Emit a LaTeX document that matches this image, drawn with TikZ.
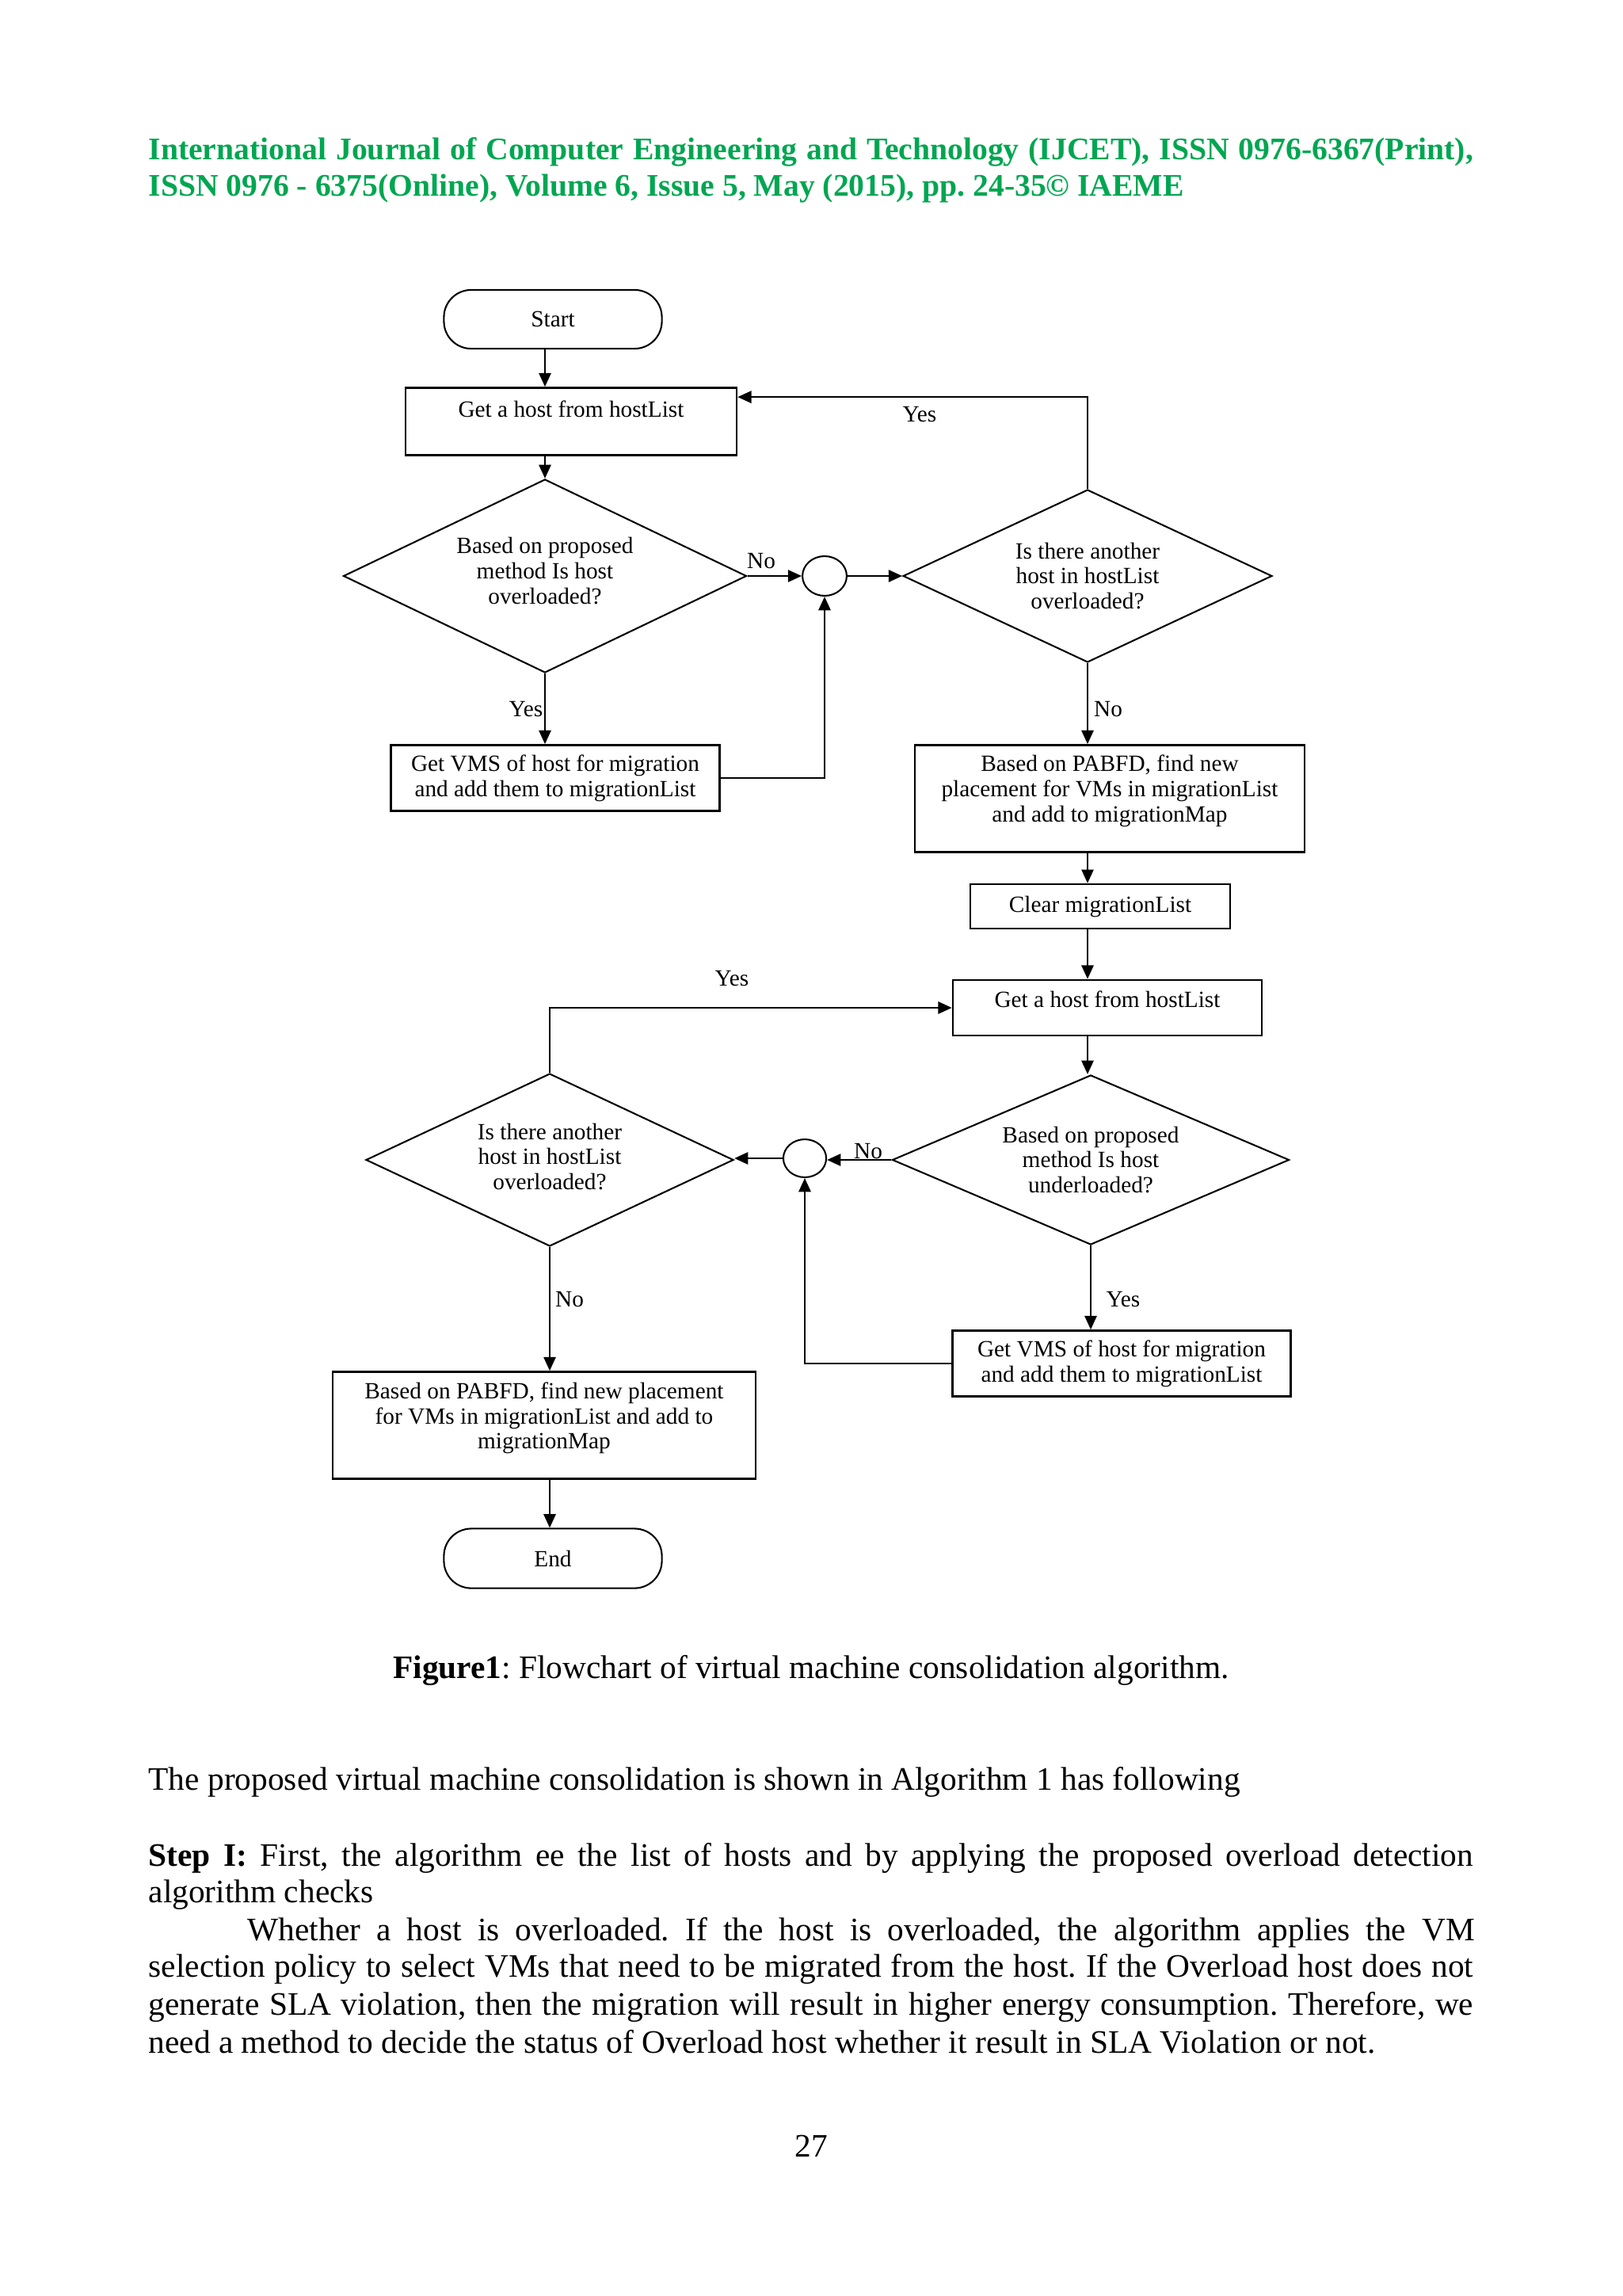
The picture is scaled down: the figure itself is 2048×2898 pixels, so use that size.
\documentclass[tikz,border=0pt]{standalone}
\usepackage{fontspec}
\setmainfont{Liberation Serif}
\usetikzlibrary{shapes.geometric,arrows.meta,calc}
\definecolor{hdrgreen}{RGB}{0,166,81}
\frenchspacing
\begin{document}
\begin{tikzpicture}[x=0.29pt,y=-0.29pt,
  every node/.style={font=\fontsize{8.5}{9.2}\selectfont},
  proc/.style={draw,line width=0.75pt,rectangle,align=center,inner sep=1pt},
  dec/.style={draw,line width=0.6pt,diamond,align=center,inner sep=0pt},
  term/.style={draw,line width=0.6pt,rounded corners=10pt,rectangle,align=center},
  junc/.style={draw,line width=0.6pt,ellipse,inner sep=0pt},
  arr/.style={line width=0.65pt,-{Triangle[length=5pt,width=4.4pt]}},
  lbl/.style={inner sep=0pt},
  body/.style={anchor=base west,inner sep=0pt,font=\fontsize{12}{14}\selectfont},
  hdr/.style={anchor=base west,inner sep=0pt,text=hdrgreen,font=\bfseries\fontsize{11.5}{14}\selectfont},
]
\useasboundingbox (0,0) rectangle (2048,2898);

% header
\node[hdr] (h1) at (187,201) {\makebox[485pt][s]{International Journal of Computer Engineering and Technology (IJCET), ISSN 0976-6367(Print),}};
\node[hdr] (h2) at (187,247) {ISSN 0976 - 6375(Online), Volume 6, Issue 5, May (2015), pp. 24-35© IAEME};

% flowchart nodes
\node[term,minimum width=79.8pt,minimum height=21.5pt] (start) at (698,403) {Start};
\node[proc,minimum width=121.2pt,minimum height=24.7pt,text depth=9pt] (box1) at (721,532) {Get a host from hostList};
\node[dec,minimum width=147.6pt,minimum height=70.8pt,shape aspect=2.08,text depth=4pt] (d1) at (688,727) {Based on proposed\\method Is host\\overloaded?};
\node[junc,minimum width=16.2pt,minimum height=14.5pt] (c1) at (1041,727) {};
\node[dec,minimum width=135.1pt,minimum height=63.2pt,shape aspect=2.14] (d2) at (1373,727) {Is there another\\host in hostList\\overloaded?};
\node[proc,minimum width=120.4pt,minimum height=24.1pt] (box2) at (701,982) {Get VMS of host for migration\\and add them to migrationList};
\node[proc,minimum width=142.7pt,minimum height=39.2pt,text depth=7.5pt] (box3) at (1401,1008) {Based on PABFD, find new\\placement for VMs in migrationList\\and add to migrationMap};
\node[proc,minimum width=95.1pt,minimum height=16.2pt] (box4) at (1389,1144) {Clear migrationList};
\node[proc,minimum width=113.1pt,minimum height=20.3pt,text depth=6.5pt] (box5) at (1398,1272) {Get a host from hostList};
\node[dec,minimum width=145.3pt,minimum height=62.1pt,shape aspect=2.34] (d3) at (1377,1464) {Based on proposed\\method Is host\\underloaded?};
\node[junc,minimum width=15.7pt,minimum height=13.9pt] (c2) at (1016,1462) {};
\node[dec,minimum width=134.6pt,minimum height=63.2pt,shape aspect=2.13,text depth=2.5pt] (d4) at (694,1464) {Is there another\\host in hostList\\overloaded?};
\node[proc,minimum width=154.9pt,minimum height=39.2pt,text depth=7pt] (box6) at (687,1799) {Based on PABFD, find new placement\\for VMs in migrationList and add to\\migrationMap};
\node[proc,minimum width=123.8pt,minimum height=24.1pt] (box7) at (1416,1721) {Get VMS of host for migration\\and add them to migrationList};
\node[term,minimum width=79.8pt,minimum height=21.8pt] (end) at (698,1967) {End};

% connectors
\draw[arr] (d1.north |- start.south) -- (d1.north |- box1.north);
\draw[arr] (d1.north |- box1.south) -- (d1.north);
\draw[arr] (d1.east) -- (d1.east -| c1.west);
\draw[arr] (c1.east) -- (c1.east -| d2.west);
\draw[arr] (d2.north) |- ($(box1.north east)+(0,13)$);
\draw[arr] (d1.south) -- (d1.south |- box2.north);
\draw[arr] (box2.east) -| (c1.south);
\draw[arr] (d2.south) -- (d2.south |- box3.north);
\draw[arr] (d2.south |- box3.south) -- (d2.south |- box4.north);
\draw[arr] (d2.south |- box4.south) -- (d2.south |- box5.north);
\draw[arr] (d2.south |- box5.south) -- (d2.south |- d3.north);
\draw[arr] (d3.west) -- (d3.west -| c2.east);
\draw[arr] (c2.west) -- (c2.west -| d4.east);
\draw[arr] (d4.north) |- (box5.west);
\draw[arr] (d4.south) -- (d4.south |- box6.north);
\draw[arr] (d4.south |- box6.south) -- (d4.south |- end.north);
\draw[arr] (d3.south) -- (d3.south |- box7.north);
\draw[arr] (box7.west) -| (c2.south);

% labels
\node[lbl] (lno1) at (961,708) {No};
\node[lbl] (lyes1) at (1161,523) {Yes};
\node[lbl] (lyes2) at (664,895) {Yes};
\node[lbl] (lno2) at (1399,895) {No};
\node[lbl] (lyes3) at (924,1235) {Yes};
\node[lbl] (lno3) at (1096,1453) {No};
\node[lbl] (lno4) at (719,1640) {No};
\node[lbl] (lyes4) at (1418,1640) {Yes};

% caption and text
\node[anchor=base,inner sep=0pt,font=\fontsize{12}{14}\selectfont] (cap) at (1024,2118) {\textbf{Figure1}: Flowchart of virtual machine consolidation algorithm.};
\node[body] (t1) at (187,2259) {The proposed virtual machine consolidation is shown in Algorithm 1 has following};
\node[body] (t2) at (187,2355) {\makebox[485pt][s]{\textbf{Step I:} First, the algorithm ee the list of hosts and by applying the proposed overload detection}};
\node[body] (t3) at (187,2401) {algorithm checks};
\node[body] (t4) at (312,2449) {\makebox[449.3pt][s]{Whether a host is overloaded. If the host is overloaded, the algorithm applies the VM}};
\node[body] (t5) at (187,2495) {\makebox[485pt][s]{selection policy to select VMs that need to be migrated from the host. If the Overload host does not}};
\node[body] (t6) at (187,2543) {\makebox[485pt][s]{generate SLA violation, then the migration will result in higher energy consumption. Therefore, we}};
\node[body] (t7) at (187,2591) {need a method to decide the status of Overload host whether it result in SLA Violation or not.};
\node[anchor=base,inner sep=0pt,font=\fontsize{12}{14}\selectfont] (pg) at (1024,2722) {27};
\end{tikzpicture}
\end{document}
